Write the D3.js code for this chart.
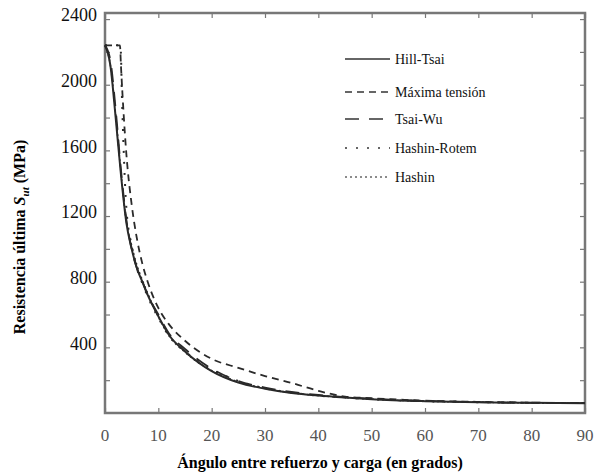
<!DOCTYPE html>
<html>
<head>
<meta charset="utf-8">
<script src="https://cdn.jsdelivr.net/npm/d3@7"></script>
<style>
  body { margin: 0; background: #fff; }
  svg { display: block; }
  svg text { font-family: "Liberation Serif", "Times New Roman", Times, serif; }
</style>
</head>
<body>
<div class="chart"></div>
<script>
// angulo (grados) y resistencia (MPa)
const angHill = [0, 1, 2, 3, 4, 5, 6, 7, 8, 10, 12, 15, 20, 25, 30, 35, 40, 45, 50, 60, 70, 80, 90];
const hillTsai = [2240, 2120, 1800, 1450, 1160, 1000, 880, 800, 720, 590, 475, 375, 255, 185, 148, 122, 106, 94, 84, 72, 65, 62, 60];

const angMax = [0, 2.8, 3, 4, 5, 6, 7, 8, 10, 12, 15, 20, 25, 30, 35, 40, 45, 50, 60, 70, 80, 90];
const maxTension = [2240, 2240, 2110, 1580, 1270, 1060, 910, 800, 640, 540, 440, 330, 275, 225, 183, 135, 100, 90, 75, 68, 63, 61];

const angTsaiWu = [0, 1, 2, 3, 4, 5, 6, 7, 8, 10, 12, 15, 20, 25, 30, 35, 40, 45, 50, 60, 70, 80, 90];
const tsaiWu = [2240, 2150, 1850, 1480, 1180, 1000, 880, 800, 720, 600, 485, 390, 270, 195, 155, 128, 110, 97, 87, 74, 66, 62, 60];

const angRotem = [0, 2.9, 3.2, 4, 5, 6, 7, 8, 10, 12, 15, 20, 25, 30, 35, 40, 45, 50, 60, 70, 80, 90];
const hashinRotem = [2240, 2240, 1900, 1250, 1020, 880, 790, 710, 580, 470, 375, 265, 195, 150, 124, 106, 94, 84, 72, 66, 62, 60];

const angHashin = [0, 1, 2, 3, 4, 5, 6, 7, 8, 10, 12, 15, 20, 25, 30, 35, 40, 45, 50, 60, 70, 80, 90];
const hashin = [2240, 2120, 1820, 1460, 1170, 1020, 900, 810, 730, 585, 470, 370, 258, 190, 150, 123, 106, 94, 84, 72, 66, 62, 60];

const seriesNames = ["Hill-Tsai", "Máxima tensión", "Tsai-Wu", "Hashin-Rotem", "Hashin"];
const xTicks = [0, 10, 20, 30, 40, 50, 60, 70, 80, 90];
const yTicks = [400, 800, 1200, 1600, 2000, 2400];

const width = 598, height = 475;
const plotLeft = 105, plotRight = 585, plotTop = 13, plotBottom = 413;

const svg = d3.select(".chart").append("svg")
  .attr("width", width)
  .attr("height", height)
  .attr("font-family", "Liberation Serif, serif");

const xScale = d3.scaleLinear().domain([0, 90]).range([plotLeft, plotRight]);
const yScale = d3.scaleLinear().domain([0, 2437]).range([plotBottom, plotTop]);

// ticks interiores en los cuatro lados
const g = svg.append("g");
g.append("g").attr("transform", `translate(0,${plotBottom})`)
  .call(d3.axisTop(xScale).tickValues(xTicks).tickSize(5).tickFormat(""));
g.append("g").attr("transform", `translate(0,${plotTop})`)
  .call(d3.axisBottom(xScale).tickValues(xTicks).tickSize(5).tickFormat(""));
g.append("g").attr("transform", `translate(${plotLeft},0)`)
  .call(d3.axisRight(yScale).tickValues(d3.range(200, 2401, 200)).tickSize(5).tickFormat(""));
g.append("g").attr("transform", `translate(${plotRight},0)`)
  .call(d3.axisLeft(yScale).tickValues(d3.range(200, 2401, 200)).tickSize(5).tickFormat(""));
g.selectAll(".domain").remove();
g.selectAll(".tick line").attr("stroke", "#777").attr("stroke-width", 1.2);

// marco
svg.append("rect")
  .attr("x", plotLeft).attr("y", plotTop)
  .attr("width", plotRight - plotLeft).attr("height", plotBottom - plotTop)
  .attr("fill", "none").attr("stroke", "#777").attr("stroke-width", 2.5);

// etiquetas de ejes
svg.append("g").selectAll("text").data(yTicks).enter().append("text")
  .attr("x", 97)
  .attr("y", d => yScale(d) - 4)
  .attr("dy", "0.35em")
  .attr("text-anchor", "end")
  .attr("font-size", 18)
  .attr("fill", "#111")
  .text(d => d);

svg.append("g").selectAll("text").data(xTicks).enter().append("text")
  .attr("x", d => xScale(d))
  .attr("y", 441)
  .attr("text-anchor", "middle")
  .attr("font-size", 17)
  .attr("fill", "#555")
  .text(d => d);

svg.append("text")
  .attr("x", 320).attr("y", 468)
  .attr("text-anchor", "middle")
  .attr("font-size", 16).attr("font-weight", "bold")
  .text("Ángulo entre refuerzo y carga (en grados)");

const yt = svg.append("text")
  .attr("transform", "translate(25,237) rotate(-90)")
  .attr("text-anchor", "middle")
  .attr("font-size", 16).attr("font-weight", "bold");
yt.append("tspan").text("Resistencia última ");
yt.append("tspan").attr("font-style", "italic").text("S");
yt.append("tspan").attr("font-style", "italic").attr("font-size", 11).attr("dy", 4).text("ut");
yt.append("tspan").attr("dy", -4).text(" (MPa)");

// curvas
const series = [
  { name: seriesNames[0], x: angHill, y: hillTsai, dash: null, w: 2 },
  { name: seriesNames[1], x: angMax, y: maxTension, dash: "7,5", w: 1.8 },
  { name: seriesNames[2], x: angTsaiWu, y: tsaiWu, dash: "14,10", w: 1.8 },
  { name: seriesNames[3], x: angRotem, y: hashinRotem, dash: "2,9", w: 2 },
  { name: seriesNames[4], x: angHashin, y: hashin, dash: "2,3", w: 1.5 }
];

const line = d3.line()
  .x(d => xScale(d[0]))
  .y(d => yScale(d[1]))
  .curve(d3.curveMonotoneX);

svg.append("g").selectAll("path").data(series).enter().append("path")
  .attr("d", s => line(s.x.map((a, i) => [a, s.y[i]])))
  .attr("fill", "none")
  .attr("stroke", "#2a2a2a")
  .attr("stroke-width", s => s.w)
  .attr("stroke-dasharray", s => s.dash);

// leyenda
const legendY = [59, 92, 119, 148, 177];
const legend = svg.append("g").selectAll("g").data(series).enter().append("g")
  .attr("transform", (s, i) => `translate(345,${legendY[i]})`);
legend.append("line")
  .attr("x1", 0).attr("x2", 45)
  .attr("stroke", "#666")
  .attr("stroke-width", s => s.w)
  .attr("stroke-dasharray", s => s.dash);
legend.append("text")
  .attr("x", 50).attr("dy", "0.35em")
  .attr("font-size", 14)
  .attr("fill", "#111")
  .text(s => s.name);
</script>
</body>
</html>
